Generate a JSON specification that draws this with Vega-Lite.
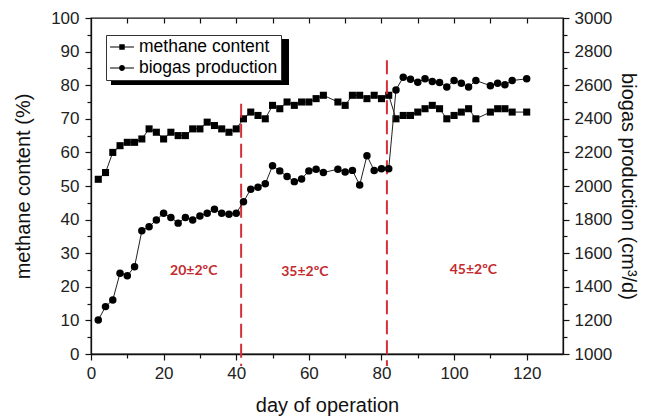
{
  "$schema": "https://vega.github.io/schema/vega-lite/v6.json",
  "width": 472,
  "height": 336,
  "autosize": {"type": "none"},
  "padding": {"left": 91, "top": 18, "right": 85, "bottom": 65},
  "background": "white",
  "config": {
    "view": {"stroke": "#111", "strokeWidth": 1.3},
    "axis": {
      "labelFont": "Liberation Sans",
      "titleFont": "Liberation Sans",
      "labelFontSize": 17,
      "titleFontSize": 20,
      "titleFontWeight": "normal",
      "labelColor": "#222",
      "titleColor": "#111",
      "domainColor": "#111",
      "tickColor": "#111",
      "domainWidth": 1.3,
      "tickWidth": 1.2,
      "grid": false,
      "labelFlush": false,
      "labelOverlap": false
    }
  },
  "datasets": {
    "series": [
      {"day": 2, "methane": 52, "biogas": 1202},
      {"day": 4, "methane": 54, "biogas": 1282},
      {"day": 6, "methane": 60, "biogas": 1322},
      {"day": 8, "methane": 62, "biogas": 1481},
      {"day": 10, "methane": 63, "biogas": 1466},
      {"day": 12, "methane": 63, "biogas": 1520},
      {"day": 14, "methane": 64, "biogas": 1733},
      {"day": 16, "methane": 67, "biogas": 1758},
      {"day": 18, "methane": 66, "biogas": 1798},
      {"day": 20, "methane": 64, "biogas": 1838},
      {"day": 22, "methane": 66, "biogas": 1812},
      {"day": 24, "methane": 65, "biogas": 1779},
      {"day": 26, "methane": 65, "biogas": 1812},
      {"day": 28, "methane": 67, "biogas": 1798},
      {"day": 30, "methane": 67, "biogas": 1822},
      {"day": 32, "methane": 69, "biogas": 1838},
      {"day": 34, "methane": 68, "biogas": 1862},
      {"day": 36, "methane": 67, "biogas": 1838},
      {"day": 38, "methane": 66, "biogas": 1832},
      {"day": 40, "methane": 67, "biogas": 1838},
      {"day": 42, "methane": 70, "biogas": 1906},
      {"day": 44, "methane": 72, "biogas": 1981},
      {"day": 46, "methane": 71, "biogas": 1993},
      {"day": 48, "methane": 70, "biogas": 2013},
      {"day": 50, "methane": 74, "biogas": 2120},
      {"day": 52, "methane": 73, "biogas": 2090},
      {"day": 54, "methane": 75, "biogas": 2056},
      {"day": 56, "methane": 74, "biogas": 2026},
      {"day": 58, "methane": 75, "biogas": 2042},
      {"day": 60, "methane": 75, "biogas": 2090},
      {"day": 62, "methane": 76, "biogas": 2100},
      {"day": 64, "methane": 77, "biogas": 2080},
      {"day": 68, "methane": 75, "biogas": 2100},
      {"day": 70, "methane": 74, "biogas": 2083},
      {"day": 72, "methane": 77, "biogas": 2093},
      {"day": 74, "methane": 77, "biogas": 2006},
      {"day": 76, "methane": 76, "biogas": 2180},
      {"day": 78, "methane": 77, "biogas": 2092},
      {"day": 80, "methane": 76, "biogas": 2102},
      {"day": 82, "methane": 77, "biogas": 2102},
      {"day": 84, "methane": 70, "biogas": 2572},
      {"day": 86, "methane": 71, "biogas": 2648},
      {"day": 88, "methane": 71, "biogas": 2636},
      {"day": 90, "methane": 72, "biogas": 2618},
      {"day": 92, "methane": 73, "biogas": 2638},
      {"day": 94, "methane": 74, "biogas": 2622},
      {"day": 96, "methane": 73, "biogas": 2616},
      {"day": 98, "methane": 70, "biogas": 2589},
      {"day": 100, "methane": 71, "biogas": 2628},
      {"day": 102, "methane": 72, "biogas": 2612},
      {"day": 104, "methane": 73, "biogas": 2589},
      {"day": 106, "methane": 70, "biogas": 2628},
      {"day": 110, "methane": 72, "biogas": 2597},
      {"day": 112, "methane": 73, "biogas": 2612},
      {"day": 114, "methane": 73, "biogas": 2602},
      {"day": 116, "methane": 72, "biogas": 2628},
      {"day": 120, "methane": 72, "biogas": 2638}
    ],
    "rules": [
      {"day": 41.35, "top": 74.5, "bot": -3.6},
      {"day": 81.5, "top": 87.4, "bot": -3.6}
    ],
    "notes": [
      {"label": "20±2ºC", "day": 28.3, "val": 24.7},
      {"label": "35±2ºC", "day": 58.9, "val": 24.5},
      {"label": "45±2ºC", "day": 105.3, "val": 25}
    ],
    "keys": [
      {"series": "methane content"},
      {"series": "biogas production"}
    ]
  },
  "layer": [
    {
      "data": {"name": "series"},
      "encoding": {
        "x": {
          "field": "day",
          "type": "quantitative",
          "scale": {"domain": [0, 130], "nice": false, "zero": false},
          "title": "day of operation",
          "axis": {
            "orient": "bottom",
            "values": [0, 10, 20, 30, 40, 50, 60, 70, 80, 90, 100, 110, 120],
            "labelExpr": "datum.value % 20 === 0 ? datum.label : ''",
            "tickSize": {"condition": {"test": "datum.value % 20 === 0", "value": 6}, "value": 4},
            "labelOverlap": false,
            "labelPadding": 5,
            "titlePadding": 14
          }
        }
      },
      "layer": [
        {
          "mark": {"type": "line", "color": "#222", "strokeWidth": 1},
          "encoding": {
            "y": {
              "field": "methane",
              "type": "quantitative",
              "title": "methane content (%)",
              "scale": {"domain": [0, 100], "nice": false},
              "axis": {
                "orient": "left",
                "values": [0, 5, 10, 15, 20, 25, 30, 35, 40, 45, 50, 55, 60, 65, 70, 75, 80, 85, 90, 95, 100],
                "labelExpr": "datum.value % 10 === 0 ? datum.label : ''",
                "tickSize": {"condition": {"test": "datum.value % 10 === 0", "value": 6}, "value": 4},
                "labelOverlap": false,
                "labelPadding": 6,
                "titlePadding": 17
              }
            }
          }
        },
        {
          "mark": {"type": "point", "filled": true, "color": "black", "size": 50, "opacity": 1, "shape": "square"},
          "encoding": {
            "y": {
              "field": "methane",
              "type": "quantitative",
              "title": "methane content (%)",
              "axis": {
                "orient": "left",
                "values": [0, 5, 10, 15, 20, 25, 30, 35, 40, 45, 50, 55, 60, 65, 70, 75, 80, 85, 90, 95, 100],
                "labelExpr": "datum.value % 10 === 0 ? datum.label : ''",
                "tickSize": {"condition": {"test": "datum.value % 10 === 0", "value": 6}, "value": 4},
                "labelOverlap": false,
                "labelPadding": 6,
                "titlePadding": 17
              }
            }
          }
        },
        {
          "data": {"name": "rules"},
          "mark": {"type": "rule", "color": "#d5303a", "strokeWidth": 2, "strokeDash": [14, 6]},
          "encoding": {
            "y": {
              "field": "top",
              "type": "quantitative",
              "title": "methane content (%)",
              "axis": {
                "orient": "left",
                "values": [0, 5, 10, 15, 20, 25, 30, 35, 40, 45, 50, 55, 60, 65, 70, 75, 80, 85, 90, 95, 100],
                "labelExpr": "datum.value % 10 === 0 ? datum.label : ''",
                "tickSize": {"condition": {"test": "datum.value % 10 === 0", "value": 6}, "value": 4},
                "labelOverlap": false,
                "labelPadding": 6,
                "titlePadding": 17
              }
            },
            "y2": {"field": "bot"}
          }
        },
        {
          "data": {"name": "notes"},
          "mark": {"type": "text", "font": "Lato", "fontWeight": "bold", "fontSize": 14, "color": "#c42a2f", "align": "center", "baseline": "middle"},
          "encoding": {
            "y": {
              "field": "val",
              "type": "quantitative",
              "title": "methane content (%)",
              "axis": {
                "orient": "left",
                "values": [0, 5, 10, 15, 20, 25, 30, 35, 40, 45, 50, 55, 60, 65, 70, 75, 80, 85, 90, 95, 100],
                "labelExpr": "datum.value % 10 === 0 ? datum.label : ''",
                "tickSize": {"condition": {"test": "datum.value % 10 === 0", "value": 6}, "value": 4},
                "labelOverlap": false,
                "labelPadding": 6,
                "titlePadding": 17
              }
            },
            "text": {"field": "label"}
          }
        },
        {
          "mark": {"type": "rect", "color": "black"},
          "encoding": {
            "x": {"datum": 5.6, "type": "quantitative", "title": "day of operation"},
            "x2": {"datum": 54.3},
            "y": {
              "datum": 93.5,
              "type": "quantitative",
              "title": "methane content (%)",
              "axis": {
                "orient": "left",
                "values": [0, 5, 10, 15, 20, 25, 30, 35, 40, 45, 50, 55, 60, 65, 70, 75, 80, 85, 90, 95, 100],
                "labelExpr": "datum.value % 10 === 0 ? datum.label : ''",
                "tickSize": {"condition": {"test": "datum.value % 10 === 0", "value": 6}, "value": 4},
                "labelOverlap": false,
                "labelPadding": 6,
                "titlePadding": 17
              }
            },
            "y2": {"datum": 80.1}
          }
        },
        {
          "data": {"name": "keys"},
          "mark": {"type": "point", "filled": true, "color": "black", "opacity": 0},
          "encoding": {
            "x": {"datum": 10, "type": "quantitative", "title": "day of operation"},
            "y": {
              "datum": 50,
              "type": "quantitative",
              "title": "methane content (%)",
              "axis": {
                "orient": "left",
                "values": [0, 5, 10, 15, 20, 25, 30, 35, 40, 45, 50, 55, 60, 65, 70, 75, 80, 85, 90, 95, 100],
                "labelExpr": "datum.value % 10 === 0 ? datum.label : ''",
                "tickSize": {"condition": {"test": "datum.value % 10 === 0", "value": 6}, "value": 4},
                "labelOverlap": false,
                "labelPadding": 6,
                "titlePadding": 17
              }
            },
            "shape": {
              "field": "series",
              "type": "nominal",
              "scale": {
                "domain": ["methane content", "biogas production"],
                "range": [
                  "M-1,-0.065H0.16V0.065H-1ZM0.84,-0.065H2V0.065H0.84ZM0.16,-0.34H0.84V0.34H0.16Z",
                  "M-1,-0.065H0.13V0.065H-1ZM0.87,-0.065H2V0.065H0.87ZM0.87,0A0.37,0.37 0 1,1 0.13,0A0.37,0.37 0 1,1 0.87,0Z"
                ]
              },
              "legend": {
                "title": null,
                "orient": "none",
                "legendX": 15,
                "legendY": 17,
                "direction": "vertical",
                "labelFont": "Liberation Sans",
                "labelFontSize": 17.5,
                "labelColor": "black",
                "strokeColor": "#333",
                "fillColor": "white",
                "padding": 3,
                "rowPadding": 3,
                "symbolSize": 256,
                "labelOffset": 12,
                "encode": {
                  "symbols": {
                    "update": {
                      "size": {"value": 256},
                      "fill": {"value": "black"},
                      "opacity": {"value": 1},
                      "fillOpacity": {"value": 1}
                    }
                  }
                }
              }
            }
          }
        }
      ]
    },
    {
      "data": {"name": "series"},
      "encoding": {
        "x": {
          "field": "day",
          "type": "quantitative",
          "scale": {"domain": [0, 130], "nice": false, "zero": false},
          "axis": {
            "orient": "top",
            "title": null,
            "labels": false,
            "domain": false,
            "offset": -5,
            "values": [10, 20, 30, 40, 50, 60, 70, 80, 90, 100, 110, 120],
            "tickSize": 5
          }
        },
        "y": {
          "field": "biogas",
          "type": "quantitative",
          "title": "biogas production (cm³/d)",
          "scale": {"domain": [1000, 3000], "nice": false, "zero": false},
          "axis": {
            "orient": "right",
            "values": [1000, 1100, 1200, 1300, 1400, 1500, 1600, 1700, 1800, 1900, 2000, 2100, 2200, 2300, 2400, 2500, 2600, 2700, 2800, 2900, 3000],
            "labelExpr": "datum.value % 200 === 0 ? datum.label : ''",
            "format": "d",
            "tickSize": {"condition": {"test": "datum.value % 200 === 0", "value": 6}, "value": 4},
            "labelOverlap": false,
            "labelPadding": 5,
            "titlePadding": 6
          }
        }
      },
      "layer": [
        {"mark": {"type": "line", "color": "#222", "strokeWidth": 1}, "encoding": {}},
        {
          "mark": {"type": "point", "filled": true, "color": "black", "size": 56, "opacity": 1, "shape": "circle"},
          "encoding": {}
        }
      ]
    }
  ],
  "resolve": {"scale": {"x": "independent", "y": "independent"}, "axis": {"x": "independent"}}
}
